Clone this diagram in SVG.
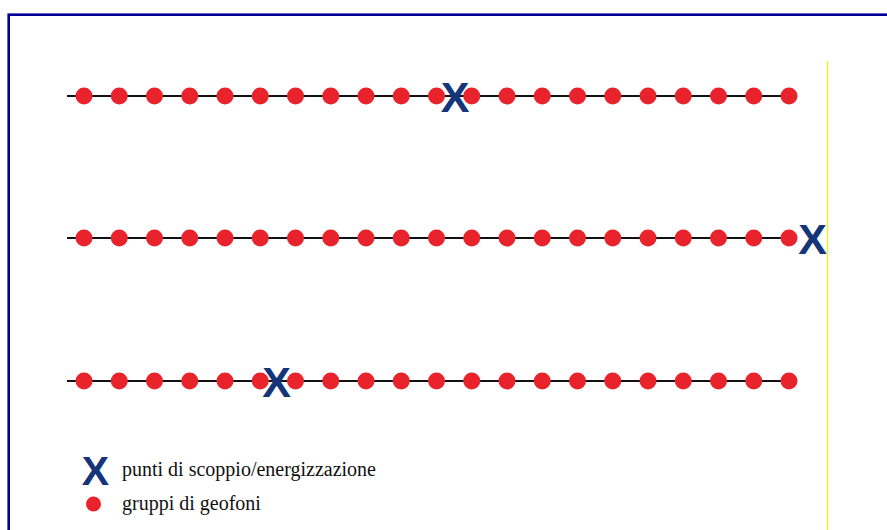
<svg xmlns="http://www.w3.org/2000/svg" width="887" height="530" viewBox="0 0 887 530">
<defs>
<style>
.line{stroke:#111;stroke-width:2}
.dot{fill:#e8232b}
.x{font-family:"Liberation Sans",Arial,sans-serif;font-weight:bold;font-size:43px;fill:#15357a;text-anchor:middle}
.lbl{font-family:"Liberation Serif","Times New Roman",serif;font-size:20px;fill:#111}
</style>
<g id="row" >
<circle class="dot" cx="84" cy="0" r="8.5"/><circle class="dot" cx="119.25" cy="0" r="8.5"/><circle class="dot" cx="154.5" cy="0" r="8.5"/><circle class="dot" cx="189.75" cy="0" r="8.5"/><circle class="dot" cx="225" cy="0" r="8.5"/><circle class="dot" cx="260.25" cy="0" r="8.5"/><circle class="dot" cx="295.5" cy="0" r="8.5"/><circle class="dot" cx="330.75" cy="0" r="8.5"/><circle class="dot" cx="366" cy="0" r="8.5"/><circle class="dot" cx="401.25" cy="0" r="8.5"/><circle class="dot" cx="436.5" cy="0" r="8.5"/><circle class="dot" cx="471.75" cy="0" r="8.5"/><circle class="dot" cx="507" cy="0" r="8.5"/><circle class="dot" cx="542.25" cy="0" r="8.5"/><circle class="dot" cx="577.5" cy="0" r="8.5"/><circle class="dot" cx="612.75" cy="0" r="8.5"/><circle class="dot" cx="648" cy="0" r="8.5"/><circle class="dot" cx="683.25" cy="0" r="8.5"/><circle class="dot" cx="718.5" cy="0" r="8.5"/><circle class="dot" cx="753.75" cy="0" r="8.5"/><circle class="dot" cx="789" cy="0" r="8.5"/>
</g>
</defs>
<rect x="0" y="0" width="887" height="530" fill="#fff"/>
<rect x="8.7" y="14.7" width="900" height="600" fill="none" stroke="#000099" stroke-width="2.6"/>
<line x1="827.5" y1="61" x2="827.5" y2="530" stroke="#f0f030" stroke-width="1.5"/>
<g id="connectors">
<line class="line" x1="67" y1="96" x2="790" y2="96"/>
<line class="line" x1="67" y1="238" x2="790" y2="238"/>
<line class="line" x1="67" y1="381" x2="790" y2="381"/>
</g>
<g id="line1">
<use href="#row" y="96"/>
<text class="x" x="455" y="112">X</text>
</g>
<g id="line2">
<use href="#row" y="238"/>
<text class="x" x="812.5" y="254">X</text>
</g>
<g id="line3">
<use href="#row" y="381"/>
<text class="x" x="276.5" y="397">X</text>
</g>
<g id="legend">
<text class="x" x="95.5" y="485" style="font-size:41px">X</text>
<text class="lbl" x="122" y="476" font-family="Liberation Serif, serif">punti di scoppio/energizzazione</text>
<circle class="dot" cx="93.5" cy="504" r="7.5"/>
<text class="lbl" x="122" y="510" font-family="Liberation Serif, serif">gruppi di geofoni</text>
</g>
</svg>
